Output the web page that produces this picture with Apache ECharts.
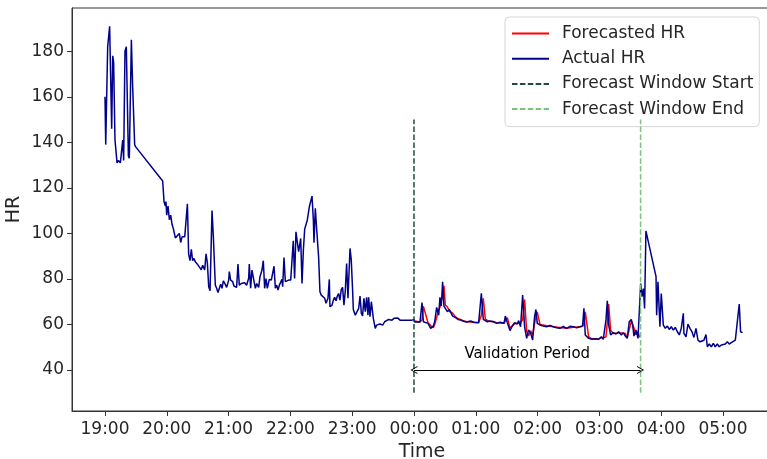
<!DOCTYPE html>
<html>
<head>
<meta charset="utf-8">
<script src="https://cdn.jsdelivr.net/npm/echarts@6/dist/echarts.min.js"></script>
<style>
  html, body { margin: 0; padding: 0; background: #fff; }
  #chart { width: 767px; height: 459px; }
</style>
</head>
<body>
<div id="chart"></div>
<script>
// time in minutes after 19:00, heart rate in bpm
const actualMin = [
    0, 0.7, 2.6, 4.5, 6.5, 7.5, 8.4, 9.7, 11.7, 13, 14.9, 17.2, 18.1, 19.4, 20.7, 22.7, 23.6, 25.6, 26.9, 28.8, 29.8,
    56, 57.3, 58.6, 59.2, 59.9, 61.2, 62.5, 63.8, 65.1, 66.4, 68.3, 70.2, 72.2, 73.5, 74.8, 77.4, 79.3, 80, 81.2,
    82.5, 83.8, 85.1, 86.4, 87.7, 89.7, 91.6, 93.5, 94.8, 96.8, 98.1, 99.4, 100.7, 102, 103.9, 105.2, 107.1, 108.4,
    109.7, 111, 112.3, 113.6, 114.9, 116.8, 118.1, 120.1, 120.7, 122, 124, 125.2, 126.5, 127.8, 129.1, 130.4, 132.4,
    134.3, 135.6, 137.5, 139.5, 140.1, 141.4, 142.7, 144, 146, 147.3, 149.2, 150.5, 152.4, 153.7, 155, 156.3, 157.6,
    159.5, 161.5, 163.4, 164.1, 165.4, 166.7, 168, 169.3, 170.6, 171.8, 172.5, 173.8, 175.1, 176.4, 178.3, 180.3,
    181.6, 182.8, 184.1, 185.4, 186.7, 188, 190, 191.3, 192.6, 193.9, 196.4, 198.4, 199.7, 201, 202.3, 202.9, 204.2,
    205.5, 207.4, 208.7, 210, 211.3, 213.3, 214.6, 216.5, 217.8, 218.4, 220.4, 221.7, 223, 224.3, 225.6, 226.8,
    228.1, 229.4, 230.7, 232, 233.3, 234.6, 235.9, 237.2, 237.9, 239.1, 240.4, 241.1, 243, 244.3, 246.3, 247.6,
    248.9, 250.1, 251.4, 252.7, 254, 255.3, 256, 257.3, 258.6, 260.5, 262.4, 263.7, 265, 267, 269.6, 271.5, 273.4,
    275.4, 276.7, 278.6, 280.6, 282.5, 284.4, 286.4, 288.3, 290.3, 292.2, 294.2, 296.1, 298, 300,
    300.6, 305.8, 307.8, 309.1, 313.6, 316.2, 318.8, 320.1, 322, 324, 325.2, 326.5, 327.8, 329.1, 330.4, 332.4,
    334.3, 336.2, 337.5, 340.1, 342.7, 345.3, 347.9, 351.1, 355, 358.5, 362.8, 365.4, 367.3, 369.2, 371.2, 373.8,
    377, 380.2, 383.5, 387.4, 388.7, 390.6, 393.2, 395.1, 397.7, 400.3, 401.6, 403.5, 405.5, 407.4, 409.4, 411.3,
    413.3, 415.2, 417.1, 418.4, 419.7, 422.3, 425.5, 428.8, 432, 435.3, 438.5, 441.7, 445, 448.2, 451.5, 454.7,
    458, 461.1, 463.7, 465, 466.3, 469.6, 472.8, 476, 479.3, 481.9, 483.8, 486.4, 487.7, 489, 490.9, 493.5, 496.1,
    498.7, 501.3, 503.2, 505.2, 507.1, 509, 511, 512.3, 513.6, 515.5, 517.5, 518.8,
    520.1, 521.4, 522.7, 523.9, 525.2, 535, 535.6, 536.9, 538.8, 540.1, 542.1, 544, 546, 547.9, 549.8, 551.8,
    553.7, 555.7, 557.6, 559.5, 561.5, 562.1, 564.1, 566, 568, 569.9, 571.8, 573.8, 575.7, 577.7, 579.6, 581.5,
    583.5, 584.8, 586.7, 588.7, 590.6, 592.5, 594.5, 596.4, 598.4, 600.3, 602.3, 604.2, 606.1, 608.1, 610, 612,
    613.9, 615.8, 617.1, 619.1
];
const actualHR = [
    160, 139, 182, 191, 146, 178, 175, 141, 131, 132, 131, 141, 132, 180, 182, 134, 133, 185, 164, 139, 138,
    123, 114, 112, 114, 108, 112, 106, 108, 104, 102, 98, 99, 100, 96, 98.5, 98.5, 98.5, 113, 91,
    88, 93, 88, 89, 87.5, 86.5, 87, 84, 86, 84, 91, 87, 76.6, 74.8, 110, 98.5, 77.3, 75.9,
    74, 75.9, 77.7, 75.9, 79.2, 77.6, 76.3, 79.5, 83.2, 79.5, 78.8, 76.9, 77.3, 76.3, 86.5, 77.3, 78,
    77.3, 78.3, 77.2, 80.3, 86.5, 75.9, 83.9, 83.1, 75.9, 78, 76.3, 81, 83.9, 88, 75.9, 80.2, 75.9,
    79.8, 79.5, 80.2, 85.6, 75.9, 77.3, 75.1, 77.3, 76.6, 79.8, 76.6, 89.4, 78.8, 78, 79.5, 79.5,
    79.5, 96.8, 80.2, 100.7, 96.3, 92, 97.8, 78, 92.7, 102, 105.8, 111.7, 112.4, 116.4, 105.8, 95.9, 111,
    102, 89.7, 74.4, 72.9, 72.5, 71.5, 69.3, 71.5, 79.8, 67.8, 68.5, 70.7, 71.9, 70.4, 72.5, 73.6,
    70.7, 75.4, 76.3, 68.5, 74.8, 86.8, 71.5, 71.5, 93.4, 88.3, 75.1, 66.6, 64.1, 63.4, 67.1, 72.5,
    64.9, 63.7, 71.5, 65.6, 71.9, 64.1, 71.9, 63.4, 70, 62.7, 58.3, 59.7, 59.3, 60.2, 59.7, 61.2, 61.6,
    62.2, 62.7, 61.9, 62.7, 61.9, 62.8, 61.9, 62.5, 61.9, 62.7, 61.9, 62.5, 61.9, 62.2,
    61.1, 61.1, 69.6, 61.2, 60.5, 58.3, 59.3, 61.2, 67.5, 64.1, 71.9, 68.1, 78.8, 68.1, 68.9, 65.6,
    66.6, 66.3, 63.7, 63.1, 62.2, 62, 61.4, 61.1, 61.5, 60.9, 60.8, 73.7, 62.2, 62.2, 61.2, 61.5,
    61.2, 60.5, 61, 60.5, 63.7, 60.8, 57.3, 59, 60.8, 60.2, 61.7, 59, 72.9, 59, 53.9, 57.6,
    56.1, 53.2, 63.7, 66.6, 60.5, 59.8, 59.3, 59, 59.6, 59, 58.6, 58.3, 59.1, 58.3, 59.2, 59,
    58.5, 59, 59.3, 67.1, 55.4, 53.9, 53.5, 53.7, 53.5, 54.6, 53.5, 62, 70.4, 59.8, 55.4, 56.4, 55.8,
    56.8, 55.4, 56.4, 54.9, 53.9, 61.2, 62.2, 59.8, 54.9, 57.6, 53.9, 53.9,
    78, 72.2, 75.8, 67, 101.1, 81, 64.1, 78.8, 59, 73.6, 59.7, 58.3, 59.3, 57.8, 59, 57.5,
    58.7, 56.8, 55.4, 58.3, 64.9, 56.1, 54.6, 60.2, 58.3, 56.8, 54.3, 58.3, 53.1, 52.4, 51.7, 53.1,
    55.6, 50.2, 51.4, 50.2, 51.7, 50.2, 51.4, 50.2, 51, 50.2, 51.4, 52.4, 51.4, 52, 52.4, 53.1,
    53.1, 69, 56.8, 56.4
];

const forecastMin = [
    300.6, 305.8, 307.8, 309.1, 313.6, 316.2, 318.8, 320.1, 322, 324, 325.2, 326.5, 327.8, 329.1, 330.4, 332.4,
    334.3, 336.2, 337.5, 340.1, 342.7, 345.3, 347.9, 351.1, 362.8, 365.4, 367.3, 369.2, 371.2, 373.8, 377, 380.2,
    387.4, 388.7, 390.6, 393.2, 395.1, 397.7, 400.3, 401.6, 403.5, 405.5, 407.4, 409.4, 411.3, 413.3, 415.2,
    417.1, 418.4, 419.7, 422.3, 428.8, 435.3, 441.7, 448.2, 454.7, 461.1, 463.7, 465, 466.3, 469.6, 472.8, 476,
    479.3, 481.9, 483.8, 486.4, 487.7, 489, 490.9, 493.5, 496.1, 498.7, 501.3, 503.2, 505.2, 507.1, 509, 511,
    512.3, 513.6, 515.5, 517.5, 518.8, 520
];
const forecastHR = [
    61.5, 61.1, 62, 68, 60.8, 59.5, 58.6, 60, 63, 66.5, 67.5, 70.5, 72, 77, 68.5, 67.8,
    65.8, 66.5, 65, 63.4, 62.6, 62.1, 61.7, 61.2, 60.9, 64, 71.5, 62.5, 61.8, 61.3, 61.3, 60.8,
    60.5, 60.8, 63, 58.5, 58, 60.3, 60.5, 60.5, 61, 62, 71, 57, 55, 57.2, 55.3,
    55, 64, 65.5, 60, 59.4, 59, 58.7, 58.3, 58.8, 59, 59.2, 60.5, 65.5, 54.5, 53.7, 53.6,
    53.6, 54.2, 54.3, 54.5, 61, 69, 57.5, 56, 56.2, 56.3, 56.3, 55.7, 56, 54.4, 55, 61.5,
    61.5, 58.5, 55.5, 57, 54.5, 55
];

const windowStart = 300;   // 00:00
const windowEnd = 520;     // 03:40
const windowLineHR = [30, 150];
const validationHR = 40;

const xTicks = [0, 60, 120, 180, 240, 300, 360, 420, 480, 540, 600];
const yTicks = [40, 60, 80, 100, 120, 140, 160, 180];

const zip = (xs, ys) => xs.map((x, i) => [x, ys[i]]);
const fmtTime = m => {
    const h = (19 + Math.floor(m / 60)) % 24;
    return String(h).padStart(2, '0') + ':00';
};

const FONT = 'DejaVu Sans';
const INK = '#262626';
const chevron = 'path://M0,10 L5,0 L10,10 L8.8,10 L5,2.4 L1.2,10 Z';

const chart = echarts.init(document.getElementById('chart'));
chart.setOption({
    animation: false,
    textStyle: { fontFamily: FONT },
    grid: {
        left: 72, top: 8, bottom: 48, right: -5,
        containLabel: false,
        outerBoundsMode: 'none',
        show: true, borderColor: '#333', borderWidth: 1
    },
    xAxis: {
        type: 'value',
        min: -32.04,
        max: 647.6,
        name: 'Time',
        nameLocation: 'middle',
        nameGap: 32,
        nameTextStyle: { fontSize: 19, color: INK, fontFamily: FONT },
        axisLine: { show: true, onZero: false, lineStyle: { color: '#333', width: 1 } },
        axisTick: { show: true, length: 5, customValues: xTicks, lineStyle: { color: '#333' } },
        axisLabel: {
            customValues: xTicks, formatter: fmtTime,
            fontSize: 17, color: INK, margin: 10, fontFamily: FONT
        },
        splitLine: { show: false }
    },
    yAxis: {
        type: 'value',
        min: 22,
        max: 199,
        name: 'HR',
        nameLocation: 'middle',
        nameGap: 48,
        nameMoveOverlap: false,
        nameTextStyle: { fontSize: 19, color: INK, fontFamily: FONT },
        axisLine: { show: true, onZero: false, lineStyle: { color: '#333', width: 1 } },
        axisTick: { show: true, length: 5, customValues: yTicks, lineStyle: { color: '#333' } },
        axisLabel: {
            customValues: yTicks,
            fontSize: 17, color: INK, margin: 8, fontFamily: FONT
        },
        splitLine: { show: false }
    },
    legend: {
        orient: 'vertical',
        left: 505,
        top: 17,
        data: ['Forecasted HR', 'Actual HR', 'Forecast Window Start', 'Forecast Window End'],
        padding: [8, 6, 9, 6],
        itemWidth: 37,
        itemHeight: 14,
        itemGap: 8.2,
        itemStyle: { opacity: 0 },
        backgroundColor: '#fff',
        borderColor: '#d6d6d6',
        borderWidth: 1,
        borderRadius: 4,
        textStyle: { fontSize: 17, color: INK, fontFamily: FONT, lineHeight: 17, padding: [0, 0, 0, 8] }
    },
    series: [
        {
            name: 'Forecasted HR',
            type: 'line',
            data: zip(forecastMin, forecastHR),
            symbol: 'none',
            color: '#ff0000',
            lineStyle: { color: '#ff0000', width: 1.5 },
            z: 2
        },
        {
            name: 'Actual HR',
            type: 'line',
            data: zip(actualMin, actualHR),
            symbol: 'none',
            color: '#00008b',
            lineStyle: { color: '#00008b', width: 1.5 },
            z: 3,
            markLine: {
                silent: true,
                symbol: [chevron, chevron],
                symbolSize: [8, 7],
                lineStyle: { color: '#000', type: 'solid', width: 1 },
                label: {
                    show: true, position: 'middle', formatter: 'Validation Period',
                    fontSize: 15, color: '#000', distance: 8, fontFamily: FONT
                },
                data: [[{ coord: [windowStart, validationHR] }, { coord: [windowEnd, validationHR] }]]
            }
        },
        {
            name: 'Forecast Window Start',
            type: 'line',
            data: windowLineHR.map(v => [windowStart, v]),
            symbol: 'none',
            color: '#1e4d3d',
            lineStyle: { color: '#1e4d3d', width: 1.5, type: [5.5, 2.4] },
            z: 4
        },
        {
            name: 'Forecast Window End',
            type: 'line',
            data: windowLineHR.map(v => [windowEnd, v]),
            symbol: 'none',
            color: '#7cc47c',
            lineStyle: { color: '#7cc47c', width: 1.5, type: [5.5, 2.4] },
            z: 4
        }
    ]
});
</script>
</body>
</html>
